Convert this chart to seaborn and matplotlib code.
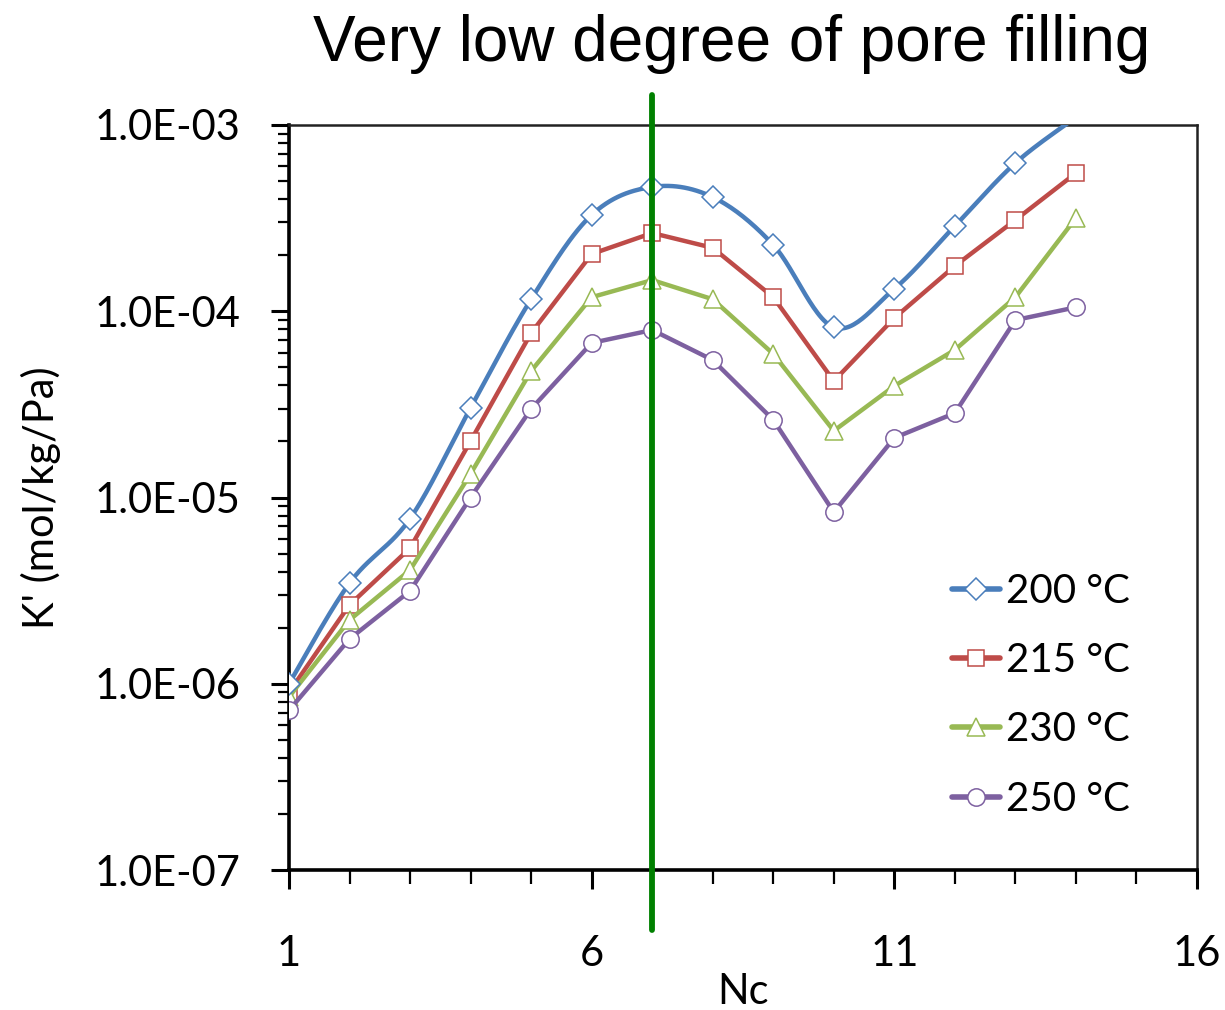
import numpy as np
import pandas as pd
import matplotlib
matplotlib.use("Agg")
import matplotlib.pyplot as plt
from matplotlib.lines import Line2D
from matplotlib.ticker import FixedLocator, FixedFormatter, NullFormatter
import seaborn as sns

# Henry constants K' (mol/kg/Pa) versus carbon number Nc
nc = [1, 2, 3, 4, 5, 6, 7, 8, 9, 10, 11, 12, 13, 14]
k_200 = [1.0e-6, 3.47e-6, 7.7e-6, 3.03e-5, 1.16e-4, 3.29e-4, 4.65e-4,
         4.1e-4, 2.27e-4, 8.2e-5, 1.32e-4, 2.87e-4, 6.25e-4, 1.1e-3]
k_215 = [9.0e-7, 2.65e-6, 5.35e-6, 2.01e-5, 7.64e-5, 2.03e-4, 2.63e-4,
         2.19e-4, 1.19e-4, 4.22e-5, 9.2e-5, 1.75e-4, 3.09e-4, 5.52e-4]
k_230 = [8.5e-7, 2.2e-6, 4.08e-6, 1.34e-5, 4.78e-5, 1.19e-4, 1.47e-4,
         1.16e-4, 5.9e-5, 2.28e-5, 3.97e-5, 6.2e-5, 1.19e-4, 3.17e-4]
k_250 = [7.2e-7, 1.74e-6, 3.15e-6, 1.0e-5, 2.99e-5, 6.76e-5, 7.93e-5,
         5.47e-5, 2.61e-5, 8.35e-6, 2.09e-5, 2.84e-5, 8.97e-5, 1.05e-4]
series_labels = ["200 °C", "215 °C", "230 °C", "250 °C"]
nc_marker_line = 7

y_ticks = [1e-7, 1e-6, 1e-5, 1e-4, 1e-3]
y_tick_labels = ["1.0E-07", "1.0E-06", "1.0E-05", "1.0E-04", "1.0E-03"]
x_ticks = [1, 6, 11, 16]
x_tick_labels = ["1", "6", "11", "16"]

colors = ["#4A7EBB", "#BE4B48", "#98B954", "#7D60A0"]
markers = ["D", "s", "^", "o"]
msizes = [11.5, 12, 12.5, 12.5]

y_min, y_max = y_ticks[0], y_ticks[-1]

sns.set_theme(style="ticks")
plt.rcParams["font.family"] = ["Lato", "DejaVu Sans"]
plt.rcParams["text.color"] = "black"
plt.rcParams["axes.labelcolor"] = "black"
plt.rcParams["xtick.color"] = "black"
plt.rcParams["ytick.color"] = "black"

fig = plt.figure(figsize=(12.25, 10.1), dpi=100)
ax = fig.add_axes([289 / 1225, 1 - 870 / 1010, (1197 - 289) / 1225, (870 - 125) / 1010])


def smooth_curve(x, y, n=30):
    """Bezier smoothing through every point (control points from neighbours)."""
    px = np.asarray(x, float)
    py = np.log10(np.asarray(y, float))
    pts = np.column_stack([px, py])
    out = []
    for i in range(len(pts) - 1):
        p0 = pts[i - 1] if i > 0 else pts[i]
        p1, p2 = pts[i], pts[i + 1]
        p3 = pts[i + 2] if i + 2 < len(pts) else pts[i + 1]
        c1 = p1 + (p2 - p0) / 6.0
        c2 = p2 - (p3 - p1) / 6.0
        t = np.linspace(0, 1, n, endpoint=(i == len(pts) - 2))[:, None]
        seg = ((1 - t) ** 3) * p1 + 3 * ((1 - t) ** 2) * t * c1 + 3 * (1 - t) * t ** 2 * c2 + t ** 3 * p2
        out.append(seg)
    arr = np.vstack(out)
    return arr[:, 0], 10 ** arr[:, 1]


all_series = [k_200, k_215, k_230, k_250]

# 200 °C: smoothed line plus markers (markers only for points inside the axis range)
sx, sy = smooth_curve(nc, k_200)
df_s = pd.DataFrame({"Nc": sx, "K": sy})
sns.lineplot(data=df_s, x="Nc", y="K", ax=ax, color=colors[0], linewidth=3.2,
             sort=False, estimator=None, zorder=3)
df_m = pd.DataFrame({"Nc": nc, "K": k_200})
df_m = df_m[df_m["K"] <= y_max]
ax.plot(df_m["Nc"], df_m["K"], linestyle="none", marker=markers[0], markersize=msizes[0],
        markerfacecolor="white", markeredgecolor=colors[0], markeredgewidth=1.1, zorder=4)

# other temperatures: straight segments
for vals, c, m, ms in zip(all_series[1:], colors[1:], markers[1:], msizes[1:]):
    df = pd.DataFrame({"Nc": nc, "K": vals})
    sns.lineplot(data=df, x="Nc", y="K", ax=ax, color=c, linewidth=3.2,
                 marker=m, markersize=ms, markerfacecolor="white",
                 markeredgecolor=c, markeredgewidth=1.1, zorder=3)

ax.axvline(nc_marker_line, ymin=-0.08, ymax=1.04, color="#008000", linewidth=4.2,
           clip_on=False, zorder=5)

ax.set_yscale("log")
ax.set_ylim(y_min, y_max)
ax.set_xlim(1, 16)
ax.yaxis.set_major_locator(FixedLocator(y_ticks))
ax.yaxis.set_major_formatter(FixedFormatter(y_tick_labels))
minor = [m * 10.0 ** e for e in range(-7, -3) for m in range(2, 10)]
ax.yaxis.set_minor_locator(FixedLocator(minor))
ax.yaxis.set_minor_formatter(NullFormatter())
ax.xaxis.set_major_locator(FixedLocator(x_ticks))
ax.xaxis.set_major_formatter(FixedFormatter(x_tick_labels))
ax.xaxis.set_minor_locator(FixedLocator(list(range(1, 17))))

ax.tick_params(axis="y", which="major", direction="out", length=13, width=2.2,
               labelsize=30, pad=22, color="black", labelcolor="black")
ax.tick_params(axis="y", which="minor", direction="out", length=8, width=1.6, color="black")
ax.tick_params(axis="x", which="major", direction="out", length=14, width=2.2,
               labelsize=30, pad=33, color="black", labelcolor="black")
ax.tick_params(axis="x", which="minor", direction="out", length=10, width=1.6, color="black")

for side in ["left", "bottom"]:
    ax.spines[side].set_linewidth(2.6)
    ax.spines[side].set_color("black")
for side in ["top", "right"]:
    ax.spines[side].set_linewidth(1.8)
    ax.spines[side].set_color("#222222")
ax.spines["top"].set_visible(True)
ax.spines["right"].set_visible(True)

ax.set_xlabel("Nc", fontsize=30, labelpad=0, color="black")
ax.set_ylabel("K' (mol/kg/Pa)", fontsize=30, labelpad=24, color="black")

fig.text(732 / 1225, 1 - 61 / 1010, "Very low degree of pore filling", fontsize=46,
         ha="center", va="baseline", family=["Liberation Sans"], color="black")

handles = [Line2D([0], [0], color=c, linewidth=4, marker=m, markersize=ms,
                  markerfacecolor="white", markeredgecolor=c, markeredgewidth=1.1)
           for c, m, ms in zip(colors, markers, msizes)]
leg = ax.legend(handles, series_labels, loc="upper left", bbox_to_anchor=(952 / 1225, 1 - 573 / 1010),
                bbox_transform=fig.transFigure, frameon=False,
                handlelength=1.2, handletextpad=0.15, labelspacing=0.8, borderpad=0,
                borderaxespad=0, prop={"family": "Lato", "size": 29})
for t in leg.get_texts():
    t.set_color("black")

fig.savefig("out.png", dpi=100, facecolor="white")
